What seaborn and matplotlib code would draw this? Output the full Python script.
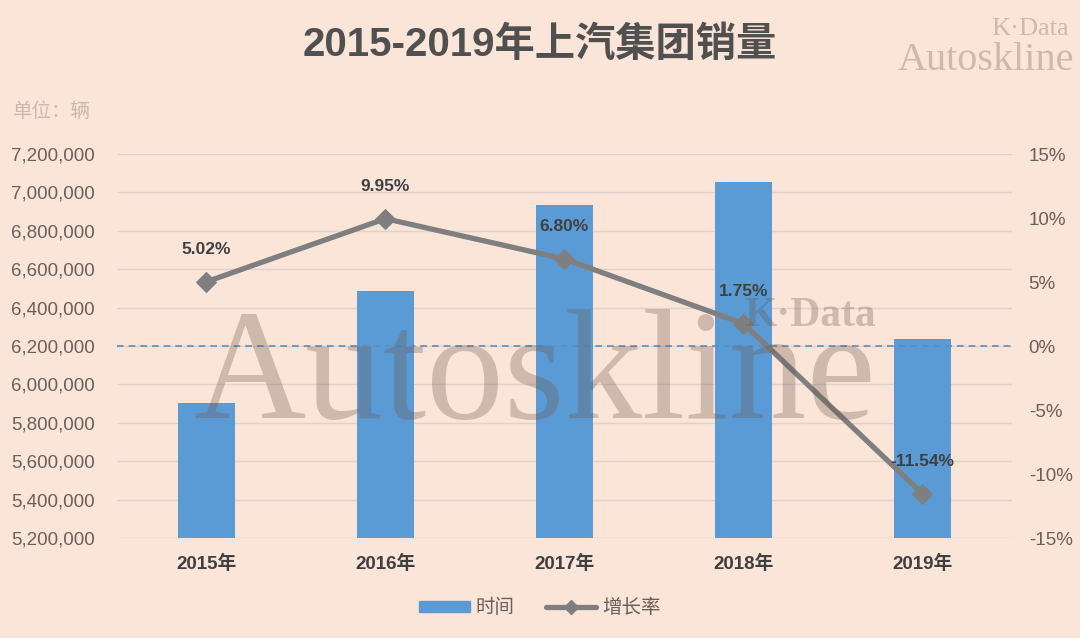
import numpy as np
import pandas as pd
import seaborn as sns
import matplotlib.pyplot as plt
from matplotlib.patches import Patch
from matplotlib.lines import Line2D
from matplotlib.ticker import FuncFormatter, MultipleLocator

years = ["2015年", "2016年", "2017年", "2018年", "2019年"]
sales = [5901000, 6489000, 6932000, 7052000, 6238000]
growth = [5.02, 9.95, 6.80, 1.75, -11.54]
growth_labels = ["5.02%", "9.95%", "6.80%", "1.75%", "-11.54%"]

BG = "#FBE4D8"
BAR = "#5B9BD5"
LINE = "#7F7F7F"
TEXT = "#6A605B"

sns.set_theme(style="white")
plt.rcParams["font.family"] = ["Liberation Sans", "Noto Sans CJK SC", "DejaVu Sans"]

df = pd.DataFrame({"year": years, "sales": sales, "growth": growth, "pos": np.arange(len(years))})

fig = plt.figure(figsize=(10.8, 6.38), dpi=100, facecolor=BG)
ax = fig.add_axes([0.1083, 0.1567, 0.8287, 0.6019])
ax.set_facecolor(BG)

sns.barplot(data=df, x="year", y="sales", color=BAR, saturation=1, width=0.32, linewidth=0,
            ax=ax, zorder=2)
ax.set_ylim(5200000, 7200000)
ax.set_xlim(-0.5, 4.5)
ax.yaxis.set_major_locator(MultipleLocator(200000))
ax.yaxis.set_major_formatter(FuncFormatter(lambda v, p: f"{int(v):,}"))
ax.grid(axis="y", color="#DDD3CD", linewidth=1.0, zorder=0)
ax.set_axisbelow(True)
ax.set_xlabel("")
ax.set_ylabel("")
for s in ax.spines.values():
    s.set_visible(False)
ax.tick_params(axis="y", length=0, pad=16, labelsize=13.5, labelcolor=TEXT)
ax.tick_params(axis="x", length=0, pad=12, labelsize=13.5, labelcolor="#404040")
for lab in ax.get_xticklabels():
    lab.set_fontweight("bold")

ax2 = ax.twinx()
ax2.set_ylim(-15, 15)
ax2.yaxis.set_major_locator(MultipleLocator(5))
ax2.yaxis.set_major_formatter(FuncFormatter(lambda v, p: f"{int(round(v))}%"))
for s in ax2.spines.values():
    s.set_visible(False)
ax2.tick_params(axis="y", length=0, pad=12, labelsize=13.5, labelcolor=TEXT)
ax2.axhline(0, color="#5B8EC2", linestyle=(0, (4, 3)), linewidth=1.2, zorder=1)
sns.lineplot(data=df, x="pos", y="growth", ax=ax2, color=LINE, linewidth=3.8,
             marker="D", markersize=10, markeredgecolor=LINE, zorder=3)
ax2.set_xlabel("")
ax2.set_ylabel("")
for x, y, t in zip(df["pos"], growth, growth_labels):
    off = 18 if y > -5 else 23
    ax2.annotate(t, (x, y), xytext=(0, off), textcoords="offset points", ha="center",
                 va="bottom" if y > -5 else "center", fontsize=12.5, fontweight="bold",
                 color="#404040", zorder=5)

# watermarks
fig.text(0.495, 0.405, "Autoskline", family=["Liberation Serif", "DejaVu Serif"], fontsize=112,
         color="#6B5548", alpha=0.3, ha="center", va="center", zorder=10)
fig.text(0.75, 0.505, "K·Data", family=["Liberation Serif", "DejaVu Serif"], fontsize=30,
         fontweight="bold", color="#6B5548", alpha=0.3, ha="center", va="center", zorder=10)
fig.text(0.99, 0.955, "K·Data", family=["Liberation Serif", "DejaVu Serif"], fontsize=19,
         color="#CDB9AE", ha="right", va="center")
fig.text(0.995, 0.905, "Autoskline", family=["Liberation Serif", "DejaVu Serif"], fontsize=29,
         color="#CDB9AE", ha="right", va="center")

fig.text(0.5, 0.93, "2015-2019年上汽集团销量", fontsize=29, fontweight="bold",
         color="#505050", ha="center", va="center")
fig.text(0.012, 0.825, "单位：辆", fontsize=14, color="#C9B8AE", ha="left", va="center")

handles = [Patch(facecolor=BAR, edgecolor=BAR),
           Line2D([0], [0], color=LINE, linewidth=3.8, marker="D", markersize=7)]
leg = fig.legend(handles, ["时间", "增长率"], loc="center", bbox_to_anchor=(0.5, 0.047), ncol=2,
                 frameon=False, fontsize=14, handlelength=2.6, handleheight=0.5,
                 columnspacing=1.6, handletextpad=0.3)
for t in leg.get_texts():
    t.set_color(TEXT)

fig.savefig("out.png", dpi=100, facecolor=BG)
